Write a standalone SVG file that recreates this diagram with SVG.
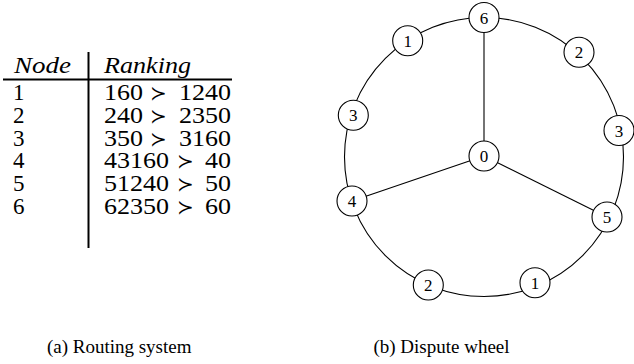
<svg xmlns="http://www.w3.org/2000/svg" width="634" height="364" viewBox="0 0 634 364">
<style>
  .hd { font-size: 23px; font-style: italic; }
  .row { font-size: 23px; }
  .sym { font-size: 20px; }
  .cap { font-size: 19px; text-anchor: middle; }
  .nd circle { fill: #fff; stroke: #000; stroke-width: 1.1; }
  .nd text { font-size: 17px; text-anchor: middle; }
  .edge { stroke: #000; stroke-width: 1.1; fill: none; }
</style>
<rect width="634" height="364" fill="#fff"/>

<g id="table">
  <line x1="3" y1="79.5" x2="232" y2="79.5" stroke="#000" stroke-width="2"/>
  <line x1="88.5" y1="52" x2="88.5" y2="248" stroke="#000" stroke-width="2"/>
  <text font-family="Liberation Serif" class="hd" x="14" y="73" textLength="57" lengthAdjust="spacingAndGlyphs">Node</text>
  <text font-family="Liberation Serif" class="hd" x="104" y="73" textLength="87" lengthAdjust="spacingAndGlyphs">Ranking</text>
  <text font-family="Liberation Serif" class="row" x="13" y="100">1</text>
  <text font-family="Liberation Serif" class="row" x="13" y="122.8">2</text>
  <text font-family="Liberation Serif" class="row" x="13" y="145.6">3</text>
  <text font-family="Liberation Serif" class="row" x="13" y="168.4">4</text>
  <text font-family="Liberation Serif" class="row" x="13" y="191.2">5</text>
  <text font-family="Liberation Serif" class="row" x="13" y="214">6</text>
  <text font-family="Liberation Serif" class="row" y="100"><tspan x="104" textLength="39" lengthAdjust="spacingAndGlyphs">160</tspan><tspan font-family="DejaVu Serif" class="sym" x="150">≻</tspan><tspan x="179" textLength="52" lengthAdjust="spacingAndGlyphs">1240</tspan></text>
  <text font-family="Liberation Serif" class="row" y="122.8"><tspan x="104" textLength="39" lengthAdjust="spacingAndGlyphs">240</tspan><tspan font-family="DejaVu Serif" class="sym" x="150">≻</tspan><tspan x="179" textLength="52" lengthAdjust="spacingAndGlyphs">2350</tspan></text>
  <text font-family="Liberation Serif" class="row" y="145.6"><tspan x="104" textLength="39" lengthAdjust="spacingAndGlyphs">350</tspan><tspan font-family="DejaVu Serif" class="sym" x="150">≻</tspan><tspan x="179" textLength="52" lengthAdjust="spacingAndGlyphs">3160</tspan></text>
  <text font-family="Liberation Serif" class="row" y="168.4"><tspan x="104" textLength="65" lengthAdjust="spacingAndGlyphs">43160</tspan><tspan font-family="DejaVu Serif" class="sym" x="177">≻</tspan><tspan x="205" textLength="26" lengthAdjust="spacingAndGlyphs">40</tspan></text>
  <text font-family="Liberation Serif" class="row" y="191.2"><tspan x="104" textLength="65" lengthAdjust="spacingAndGlyphs">51240</tspan><tspan font-family="DejaVu Serif" class="sym" x="177">≻</tspan><tspan x="205" textLength="26" lengthAdjust="spacingAndGlyphs">50</tspan></text>
  <text font-family="Liberation Serif" class="row" y="214"><tspan x="104" textLength="65" lengthAdjust="spacingAndGlyphs">62350</tspan><tspan font-family="DejaVu Serif" class="sym" x="177">≻</tspan><tspan x="205" textLength="26" lengthAdjust="spacingAndGlyphs">60</tspan></text>
</g>

<g id="connectors">
  <circle class="edge" cx="484" cy="157" r="139.5"/>
  <line class="edge" x1="484" y1="17.5" x2="484" y2="156"/>
  <line class="edge" x1="484" y1="156" x2="352" y2="201"/>
  <line class="edge" x1="484" y1="156" x2="607" y2="217"/>
</g>

<g id="n0" class="nd"><circle cx="484" cy="156" r="15"/><text font-family="Liberation Serif" x="484" y="162">0</text></g>
<g id="n6" class="nd"><circle cx="484" cy="17.5" r="15"/><text font-family="Liberation Serif" x="484" y="23.5">6</text></g>
<g id="n1a" class="nd"><circle cx="407.7" cy="40.7" r="15"/><text font-family="Liberation Serif" x="407.7" y="46.7">1</text></g>
<g id="n2a" class="nd"><circle cx="579" cy="52.3" r="15"/><text font-family="Liberation Serif" x="579" y="58.3">2</text></g>
<g id="n3a" class="nd"><circle cx="353.3" cy="115.3" r="15"/><text font-family="Liberation Serif" x="353.3" y="121.3">3</text></g>
<g id="n3b" class="nd"><circle cx="619" cy="130.5" r="15"/><text font-family="Liberation Serif" x="619" y="136.5">3</text></g>
<g id="n4" class="nd"><circle cx="352" cy="201" r="15"/><text font-family="Liberation Serif" x="352" y="207">4</text></g>
<g id="n5" class="nd"><circle cx="607" cy="217" r="15"/><text font-family="Liberation Serif" x="607" y="223">5</text></g>
<g id="n2b" class="nd"><circle cx="428.3" cy="285" r="15"/><text font-family="Liberation Serif" x="428.3" y="291">2</text></g>
<g id="n1b" class="nd"><circle cx="535" cy="282.7" r="15"/><text font-family="Liberation Serif" x="535" y="288.7">1</text></g>

<g id="captions">
  <text font-family="Liberation Serif" class="cap" x="119.2" y="353">(a) Routing system</text>
  <text font-family="Liberation Serif" class="cap" x="441.5" y="353">(b) Dispute wheel</text>
</g>
</svg>
